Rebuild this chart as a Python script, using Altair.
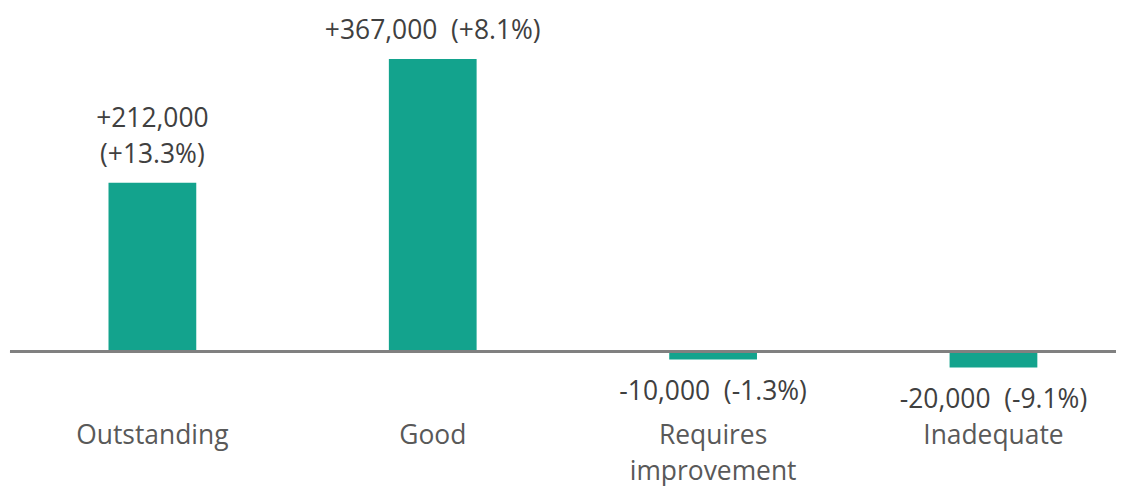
import altair as alt
import pandas as pd

categories = ["Outstanding", "Good", "Requires improvement", "Inadequate"]
changes = [212000, 367000, -10000, -20000]
label_line1 = ["+212,000", "", "", ""]
label_line2 = ["(+13.3%)", "+367,000\u00a0 (+8.1%)", "-10,000\u00a0 (-1.3%)", "-20,000\u00a0 (-9.1%)"]

df = pd.DataFrame({
    "category": categories,
    "change": changes,
    "line1": label_line1,
    "line2": label_line2,
})

FONT = "Open Sans"
FS = 26.5
BAR = "#13A38D"
W = 1110

x_enc = alt.X(
    "category:N",
    sort=categories,
    scale=alt.Scale(paddingInner=0.687, paddingOuter=0.316, align=0.556),
    axis=alt.Axis(
        title=None, domain=False, ticks=False, labelAngle=0,
        labelFont=FONT, labelFontSize=FS, labelColor="#595959",
        labelPadding=3, labelLineHeight=36, labelBaseline="top",
        labelExpr="datum.label == 'Requires improvement' ? ['Requires', 'improvement'] : datum.label",
    ),
)
x_plain = alt.X("category:N", sort=categories)
y_scale = alt.Scale(domain=[-85000, 430000], nice=False, zero=False)

base = alt.Chart(df)

bars = base.mark_bar(color=BAR).encode(
    x=x_enc,
    y=alt.Y("change:Q", scale=y_scale, axis=None),
    y2=alt.datum(0),
)

zero = base.mark_rule(color="#808080", strokeWidth=3).encode(
    y=alt.datum(0),
    x=alt.value(0),
    x2=alt.value(W),
)

pos = base.transform_filter("datum.change > 0")
pos_text2 = pos.mark_text(
    font=FONT, fontSize=FS, color="#404040", baseline="middle", dy=-28
).encode(x=x_plain, y=alt.Y("change:Q"), text="line2:N")
pos_text1 = pos.transform_filter("datum.line1 != ''").mark_text(
    font=FONT, fontSize=FS, color="#404040", baseline="middle", dy=-64
).encode(x=x_plain, y=alt.Y("change:Q"), text="line1:N")

neg_text = base.transform_filter("datum.change < 0").mark_text(
    font=FONT, fontSize=FS, color="#404040", baseline="middle", dy=33
).encode(x=x_plain, y=alt.Y("change:Q"), text="line2:N")

chart = alt.layer(bars, zero, pos_text2, pos_text1, neg_text).properties(
    width=W, height=412, padding=0
).configure_view(stroke=None)

chart.save("out.html", embed_options={"renderer": "svg", "actions": False})
